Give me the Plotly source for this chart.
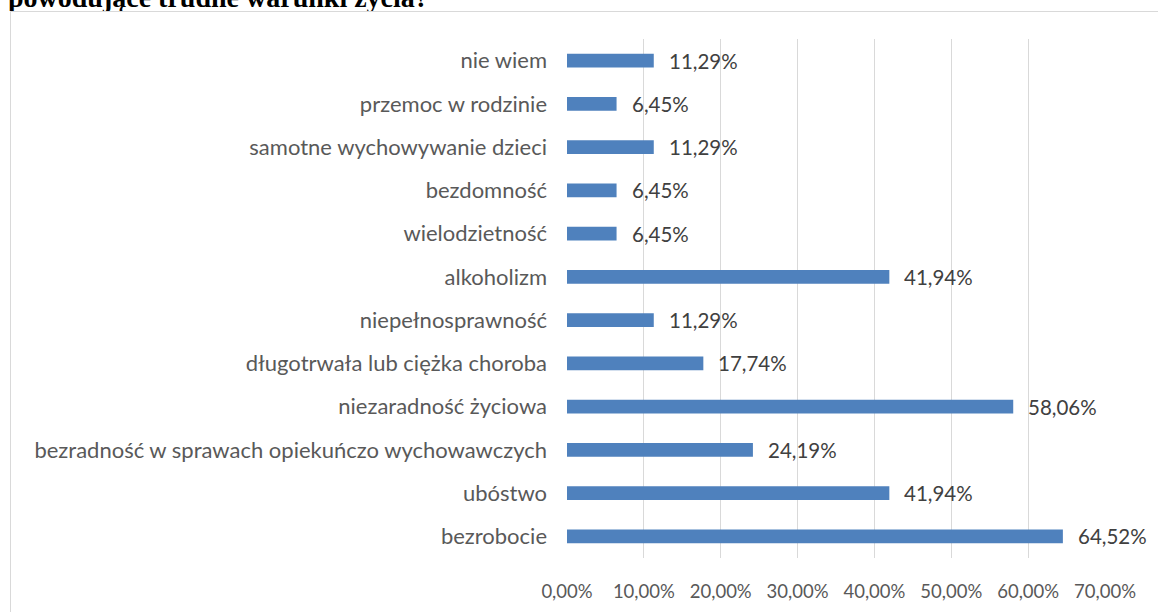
import plotly.graph_objects as go

categories = [
    "nie wiem",
    "przemoc w rodzinie",
    "samotne wychowywanie dzieci",
    "bezdomność",
    "wielodzietność",
    "alkoholizm",
    "niepełnosprawność",
    "długotrwała lub ciężka choroba",
    "niezaradność życiowa",
    "bezradność w sprawach opiekuńczo wychowawczych",
    "ubóstwo",
    "bezrobocie",
]
values = [11.29, 6.45, 11.29, 6.45, 6.45, 41.94, 11.29, 17.74, 58.06, 24.19, 41.94, 64.52]
tick_values = [0, 10, 20, 30, 40, 50, 60, 70]
tick_labels = ["0,00%", "10,00%", "20,00%", "30,00%", "40,00%", "50,00%", "60,00%", "70,00%"]
title_text = "powodujące trudne warunki życia?"

W, H = 1158, 612
# plot area in pixels (left, right, top, bottom)
PL, PR, PT, PB = 567, 1105, 39, 558
TITLE_STRIP = 11  # height of the visible strip above the chart frame

FONT = "Lato, 'Open Sans', sans-serif"

fig = go.Figure()
fig.add_trace(go.Bar(
    x=values,
    y=categories,
    orientation="h",
    marker=dict(color="#4F81BD", line=dict(width=0)),
    width=0.32,
    hoverinfo="skip",
    xaxis="x", yaxis="y",
))

# title strip (clipped at the chart frame, like the reference)
fig.add_trace(go.Scatter(
    x=[8], y=[0.3],
    mode="text",
    text=["<b>" + title_text + "</b>"],
    textposition="middle right",
    textfont=dict(family="'Liberation Serif', 'Times New Roman', serif", size=28, color="#000000"),
    cliponaxis=True,
    hoverinfo="skip",
    xaxis="x2", yaxis="y2",
))

annotations = []
for c, v in zip(categories, values):
    annotations.append(dict(
        x=v, y=c, xref="x", yref="y",
        text=f"{v:.2f}".replace(".", ",") + "%",
        showarrow=False, xanchor="left", yanchor="middle",
        xshift=13,
        font=dict(family=FONT, size=20.5, color="#404040"),
    ))

fig.update_layout(
    width=W, height=H,
    margin=dict(l=0, r=0, t=0, b=0, pad=0, autoexpand=False),
    paper_bgcolor="white",
    plot_bgcolor="rgba(0,0,0,0)",
    showlegend=False,
    annotations=annotations,
    shapes=[dict(
        type="rect", xref="paper", yref="paper",
        x0=10.5 / W, x1=1.02, y0=(H - 11.5) / H, y1=-0.05,
        line=dict(color="#D9D9D9", width=1),
        fillcolor="rgba(0,0,0,0)", layer="below",
    )],
    xaxis=dict(
        domain=[PL / W, PR / W],
        range=[0, 70],
        tickvals=tick_values,
        ticktext=tick_labels,
        showgrid=True, gridcolor="#D9D9D9", gridwidth=1,
        zeroline=False, showline=False,
        ticks="", ticklabelstandoff=20,
        tickfont=dict(family=FONT, size=18.5, color="#595959"),
        fixedrange=True,
    ),
    yaxis=dict(
        domain=[(H - PB) / H, (H - PT) / H],
        autorange="reversed",
        showgrid=False, zeroline=False, showline=False,
        ticks="", ticklabelstandoff=19,
        tickfont=dict(family=FONT, size=22, color="#595959"),
        fixedrange=True,
    ),
    xaxis2=dict(
        domain=[0, 1], range=[0, W], anchor="y2",
        visible=False, fixedrange=True,
    ),
    yaxis2=dict(
        domain=[(H - TITLE_STRIP) / H, 1], range=[TITLE_STRIP, 0], anchor="x2",
        visible=False, fixedrange=True,
    ),
)

fig.write_html(
    "out.html",
    config={"displayModeBar": False},
    post_script="document.body.style.margin='0px';",
)
